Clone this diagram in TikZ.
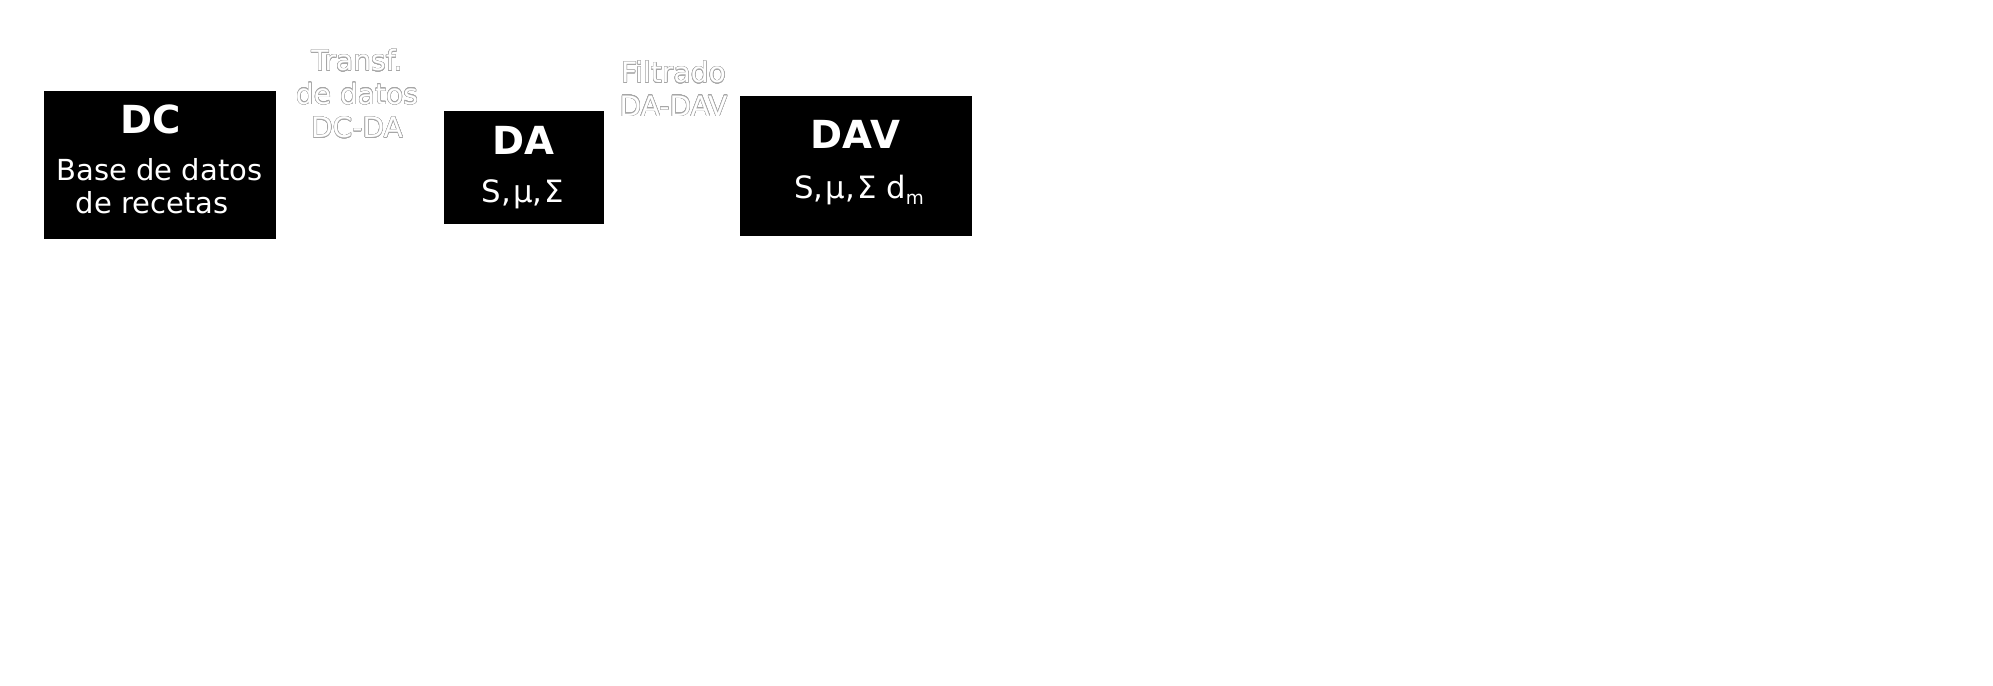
\documentclass[tikz,border=0pt]{standalone}
\usepackage{fontspec}
\setmainfont{DejaVu Sans}
\usepackage{contour}
\contourlength{0.25pt}
\contournumber{24}
\usetikzlibrary{positioning}
\tikzset{box/.style={ % black data blocks
            fill=black,
            inner sep=0pt},
        title/.style={ % bold block name
            text=white,
            font=\fontsize{22}{26}\selectfont\bfseries},
        body/.style={ % block content
            text=white,
            align=center,
            font=\fontsize{16.5}{19}\selectfont},
        steplabel/.style={ % hollow label between blocks
            text=white,
            align=center,
            font=\fontsize{16}{19}\selectfont}
        }
\newcommand{\hollow}[1]{\contour{gray!70}{#1}}

\begin{document}
\begin{tikzpicture}
    \useasboundingbox (0,0) rectangle (39.86,13.72);

    % blocks
    \node[box, minimum width=4.63cm, minimum height=2.95cm]  (dc)  at (3.20,10.415) {};
    \node[box, minimum width=3.20cm, minimum height=2.26cm]  (da)  at (10.47,10.377) {};
    \node[box, minimum width=4.65cm, minimum height=2.80cm]  (dav) at (17.12,10.39) {};

    % block texts
    \node[title] (dctitle)  at (3.02,11.33) {DC};
    \node[body]  (dcbody)   at (3.19,10.0) {Base de datos\\de recetas\hspace*{0.5em}};
    \node[title] (datitle)  at (10.47,10.92) {DA};
    \node[body, font=\fontsize{17.5}{20}\selectfont]  (dabody) at (10.46,9.83) {S,\hspace{1.2pt}μ,\hspace{1.2pt}Σ};
    \node[title] (davtitle) at (17.11,11.03) {DAV};
    \node[body, font=\fontsize{17.5}{20}\selectfont]  (davbody) at (17.18,9.91)
        {S,\hspace{1.2pt}μ,\hspace{1.2pt}Σ d\raisebox{-0.35ex}{\fontsize{10.5}{12}\selectfont m}};

    % step labels
    \node[steplabel] (dcda)  at (7.14,11.84) {\hollow{Transf.}\\\hollow{de datos}\\\hollow{DC-DA}};
    \node[steplabel] (dadav) at (13.47,11.94) {\hollow{Filtrado}\\\hollow{DA-DAV}};
\end{tikzpicture}
\end{document}
